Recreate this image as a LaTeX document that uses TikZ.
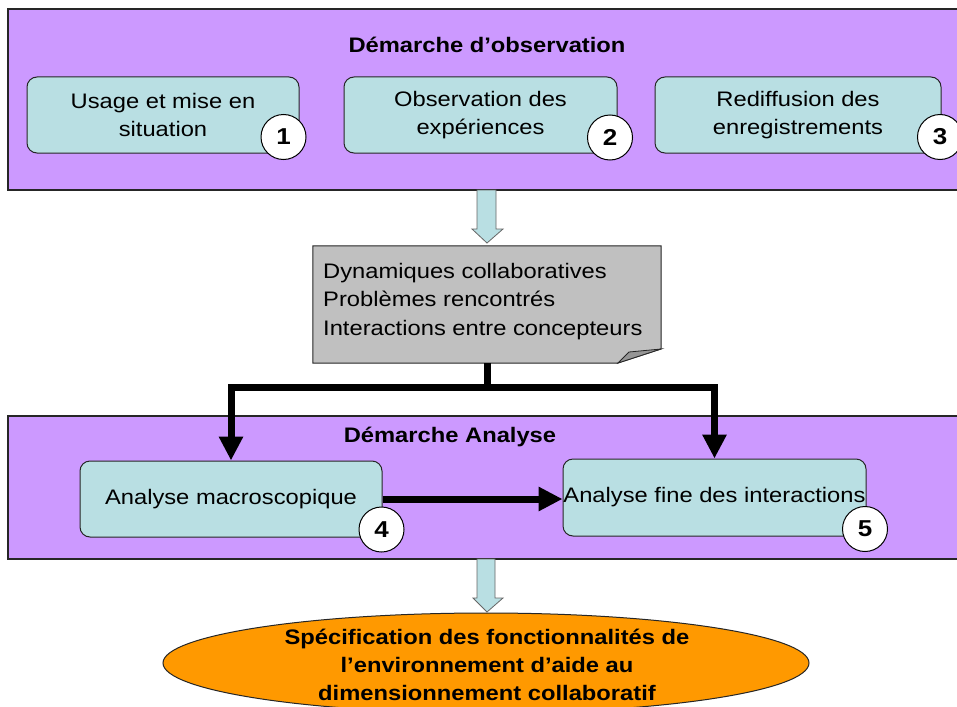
\documentclass[tikz,border=0pt]{standalone}
\usepackage{fontspec}
\setmainfont{Liberation Sans}[FakeStretch=1.13]
\usetikzlibrary{arrows.meta}
\definecolor{purp}{RGB}{204,153,255}
\definecolor{cyanbox}{RGB}{185,223,227}
\definecolor{notegray}{RGB}{192,192,192}
\definecolor{folddark}{RGB}{150,150,150}
\definecolor{orangefill}{RGB}{255,153,0}
\begin{document}
\begin{tikzpicture}[x=1pt,y=-1pt,
  every node/.style={font=\fontsize{21}{28}\selectfont},
  panel/.style={draw=black!85, line width=1.2pt, fill=purp},
  paneltitle/.style={font=\fontsize{21}{28}\selectfont\bfseries},
  stage/.style={draw=black!85, line width=1pt, fill=cyanbox, rounded corners=10pt, align=center, inner sep=0pt},
  badge/.style={circle, draw=black, line width=1pt, fill=white, minimum size=45pt, inner sep=0pt, font=\fontsize{23}{23}\selectfont\bfseries},
  flow/.style={line width=7pt, -{Triangle[length=24pt,width=23pt]}},
  blockarrow/.style={draw=black!60, line width=0.8pt, fill=cyanbox, line join=miter},
]
\useasboundingbox (0,0) rectangle (957,706);
\fill[white] (0,0) rectangle (957,706);

% observation panel
\draw[panel] (8,9) rectangle (975,190);
\node[paneltitle] (t1) at (487,45) {Démarche d’observation};
\node[stage, minimum width=272pt, minimum height=76pt] (b1) at (163,115) {Usage et mise en\\situation};
\node[stage, minimum width=273pt, minimum height=76pt] (b2) at (480.5,115) {Observation des\\expériences};
\node[stage, minimum width=286pt, minimum height=76pt] (b3) at (798,115) {Rediffusion des\\enregistrements};
\node[badge] (c1) at (283.5,137) {1};
\node[badge] (c2) at (610,137.5) {2};
\node[badge] (c3) at (940,137) {3};

% block arrow 1
\draw[blockarrow] (477,190) -- (496,190) -- (496,229) -- (503,229) -- (487,243) -- (472,229) -- (477,229) -- cycle;

% note
\node[minimum width=348pt, minimum height=117pt, inner sep=0pt] (note) at (487,304.5) {};
\coordinate (fa) at (618,363);
\coordinate (fb) at (661,349);
\coordinate (fc) at (629,352);
\fill[notegray, draw=black!85, line width=1pt] (note.north west) -- (note.north east) -- (fb) -- (fa) -- (note.south west) -- cycle;
\fill[folddark, draw=black!85, line width=0.8pt] (fa) -- (fc) -- (fb) -- cycle;
\node[anchor=west, align=left, inner sep=0pt, font=\fontsize{21}{28.5}\selectfont] (notetxt) at (323,301.5) {Dynamiques collaboratives\\Problèmes rencontrés\\Interactions entre concepteurs};

% analysis panel
\draw[panel] (8,416) rectangle (975,559);
\node[paneltitle] (t2) at (450,437) {Démarche Analyse};
\node[stage, minimum width=302pt, minimum height=76pt] (b4) at (231,499) {Analyse macroscopique};
\node[stage, minimum width=303pt, minimum height=77pt] (b5) at (714.5,497.5) {Analyse fine des interactions};

% thick connectors
\coordinate (j) at (487,387);
\draw[flow] (note.south) -- (j) -| (b4.north);
\draw[flow] (j) -| (b5.north);
\draw[flow] (b4.east) -- (b4.east -| b5.west);

\node[badge] (c4) at (381.5,529.5) {4};
\node[badge] (c5) at (865,529) {5};

% block arrow 2
\draw[blockarrow] (477,559) -- (495,559) -- (495,598) -- (503,598) -- (487,612) -- (473,598) -- (477,598) -- cycle;

% result ellipse
\draw[fill=orangefill, draw=black!85, line width=1pt] (486,663) ellipse [x radius=323, y radius=50];
\node[align=center, font=\fontsize{21}{28}\selectfont\bfseries] (res) at (487,665) {Spécification des fonctionnalités de\\l’environnement d’aide au\\dimensionnement collaboratif};
\end{tikzpicture}
\end{document}
